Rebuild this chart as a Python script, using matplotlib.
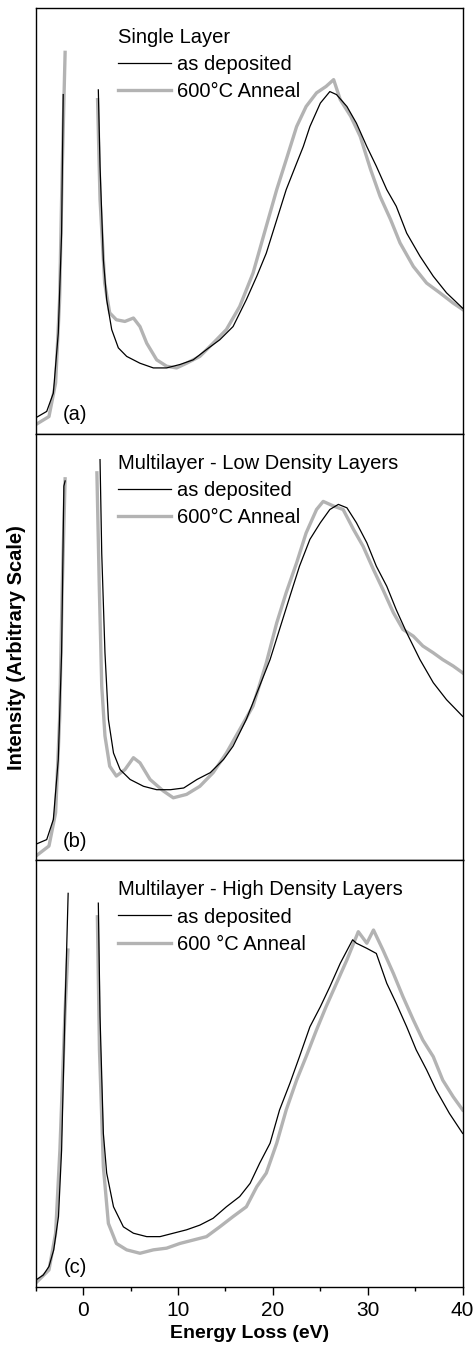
import numpy as np
import matplotlib.pyplot as plt

plt.rcParams['font.family'] = ['Liberation Sans', 'DejaVu Sans']

# energy loss (eV) and intensity (arbitrary, 0..1 per panel)
# nan splits the rising edge of the zero-loss peak from its falling side
a_dep_E = [-5, -3.84, -3.14, -2.62, -2.27, -2.1, np.nan,
           1.6, 1.78, 2.13, 2.48, 3.01, 3.71, 4.59, 5.99, 7.4, 8.8, 10.2, 11.6, 13.0, 14.4,
           15.8, 17.2, 18.3, 19.3, 20.4, 21.4, 22.5, 23.2, 23.9, 25.0, 26.0, 26.7, 27.8, 28.8,
           29.9, 30.9, 32.0, 33.0, 34.1, 35.5, 36.9, 38.3, 40]
a_dep_I = [0.038, 0.053, 0.096, 0.237, 0.471, 0.796, np.nan,
           0.807, 0.628, 0.409, 0.315, 0.245, 0.202, 0.182, 0.166, 0.155, 0.155, 0.163, 0.174,
           0.198, 0.221, 0.252, 0.315, 0.370, 0.424, 0.502, 0.573, 0.635, 0.674, 0.721, 0.776,
           0.803, 0.796, 0.768, 0.729, 0.674, 0.628, 0.573, 0.534, 0.471, 0.417, 0.370, 0.331,
           0.295]
a_ann_E = [-5, -3.6, -2.9, -2.48, -2.2, -1.9, np.nan,
           1.52, 1.78, 2.27, 2.8, 3.5, 4.4, 5.3, 5.99, 6.7, 7.75, 8.8, 9.85, 10.9, 12.3, 13.7,
           15.1, 16.5, 17.9, 19.3, 20.4, 21.4, 22.5, 23.5, 24.6, 25.6, 26.4, 27.1, 28.2, 29.2,
           30.3, 31.3, 32.4, 33.4, 34.8, 36.2, 37.6, 39.0, 40]
a_ann_I = [0.022, 0.041, 0.12, 0.315, 0.628, 0.895, np.nan,
           0.784, 0.55, 0.354, 0.284, 0.268, 0.264, 0.272, 0.252, 0.213, 0.174, 0.159, 0.155,
           0.166, 0.182, 0.213, 0.245, 0.299, 0.377, 0.487, 0.573, 0.643, 0.721, 0.768, 0.800,
           0.815, 0.831, 0.784, 0.745, 0.698, 0.620, 0.557, 0.503, 0.448, 0.393, 0.354, 0.331,
           0.307, 0.292]

b_dep_E = [-5, -3.84, -3.14, -2.62, -2.27, -2.03, -1.9, np.nan,
           1.78, 1.96, 2.3, 2.66, 3.2, 3.9, 4.95, 6.36, 7.75, 9.2, 10.6, 12.0, 13.4, 14.8, 15.8,
           17.2, 18.6, 19.7, 20.7, 21.8, 22.8, 23.9, 25.0, 26.0, 26.9, 27.8, 28.8, 29.9, 30.9,
           32.0, 33.0, 34.1, 35.5, 36.9, 38.3, 40]
b_dep_I = [0.038, 0.049, 0.096, 0.237, 0.487, 0.878, 0.89, np.nan,
           0.94, 0.72, 0.487, 0.331, 0.252, 0.213, 0.190, 0.174, 0.166, 0.166, 0.170, 0.190,
           0.206, 0.237, 0.268, 0.331, 0.409, 0.471, 0.542, 0.620, 0.690, 0.753, 0.792, 0.823,
           0.835, 0.827, 0.792, 0.745, 0.690, 0.643, 0.588, 0.534, 0.471, 0.417, 0.377, 0.338]
b_ann_E = [-5, -3.6, -2.9, -2.48, -2.2, -1.9, np.nan,
           1.45, 1.7, 1.96, 2.3, 2.8, 3.5, 4.4, 5.3, 5.99, 7.05, 8.45, 9.5, 10.9, 12.3, 13.7,
           15.1, 16.5, 17.9, 19.3, 20.4, 21.4, 22.5, 23.5, 24.6, 25.3, 26.4, 27.4, 28.5, 29.5,
           30.6, 31.6, 32.7, 33.7, 34.8, 35.8, 36.9, 37.9, 39.0, 40]
b_ann_I = [0.01, 0.034, 0.112, 0.331, 0.643, 0.895, np.nan,
           0.909, 0.643, 0.409, 0.292, 0.221, 0.198, 0.213, 0.241, 0.229, 0.190, 0.163, 0.147,
           0.155, 0.174, 0.206, 0.252, 0.307, 0.362, 0.463, 0.557, 0.628, 0.698, 0.768, 0.823,
           0.842, 0.831, 0.823, 0.776, 0.737, 0.682, 0.635, 0.581, 0.542, 0.526, 0.503, 0.487,
           0.471, 0.456, 0.44]

c_dep_E = [-5, -4.2, -3.6, -3.1, -2.6, -2.27, -1.93, -1.58, np.nan,
           1.6, 1.78, 2.13, 2.48, 3.2, 4.24, 5.3, 6.7, 8.1, 9.5, 10.9, 12.3, 13.7, 15.1, 16.5,
           17.6, 18.6, 19.7, 20.7, 21.8, 22.8, 23.9, 25.0, 26.0, 27.1, 28.4, 28.8, 29.9, 30.9,
           32.0, 33.0, 34.1, 35.1, 36.2, 37.2, 38.6, 40]
c_dep_I = [0.016, 0.028, 0.048, 0.087, 0.165, 0.321, 0.634, 0.923, np.nan,
           0.9, 0.634, 0.36, 0.267, 0.188, 0.141, 0.126, 0.118, 0.118, 0.126, 0.134, 0.145,
           0.161, 0.188, 0.212, 0.243, 0.290, 0.337, 0.415, 0.478, 0.540, 0.610, 0.657, 0.704,
           0.759, 0.814, 0.806, 0.794, 0.782, 0.712, 0.665, 0.610, 0.556, 0.509, 0.462, 0.407,
           0.360]
c_ann_E = [-5, -3.6, -2.9, -2.45, -1.93, -1.6, np.nan,
           1.5, 1.72, 2.13, 2.66, 3.5, 4.59, 5.99, 7.4, 8.8, 10.2, 11.6, 13.0, 14.4, 15.8, 17.2,
           18.3, 19.3, 20.4, 21.4, 22.5, 23.5, 24.6, 25.6, 26.7, 27.8, 29.0, 29.9, 30.6, 31.6,
           32.7, 33.7, 34.8, 35.8, 36.9, 37.9, 39.0, 40]
c_ann_I = [0.009, 0.04, 0.126, 0.321, 0.634, 0.79, np.nan,
           0.868, 0.556, 0.282, 0.149, 0.102, 0.087, 0.079, 0.087, 0.091, 0.102, 0.110, 0.118,
           0.141, 0.165, 0.188, 0.235, 0.267, 0.337, 0.415, 0.485, 0.540, 0.603, 0.657, 0.712,
           0.767, 0.833, 0.806, 0.837, 0.790, 0.735, 0.681, 0.626, 0.579, 0.540, 0.485, 0.446,
           0.415]

titles = ['Single Layer', 'Multilayer - Low Density Layers', 'Multilayer - High Density Layers']
anneal_labels = ['600°C Anneal', '600°C Anneal', '600 °C Anneal']
panel_tags = ['(a)', '(b)', '(c)']
x_ticks = [0, 10, 20, 30, 40]

panels = [(a_dep_E, a_dep_I, a_ann_E, a_ann_I),
          (b_dep_E, b_dep_I, b_ann_E, b_ann_I),
          (c_dep_E, c_dep_I, c_ann_E, c_ann_I)]

fig = plt.figure(figsize=(4.76, 13.5), dpi=100)
left, width, h = 0.075, 0.897, 0.3159
bottoms = [0.6785, 0.3626, 0.0467]
grey = '#b3b3b3'

for i, (dE, dI, aE, aI) in enumerate(panels):
    ax = fig.add_axes([left, bottoms[i], width, h])
    l2, = ax.plot(aE, aI, color=grey, lw=2.4, label=anneal_labels[i])
    l1, = ax.plot(dE, dI, color='black', lw=0.9, label='as deposited')
    ax.set_xlim(-5, 40)
    ax.set_ylim(0, 1)
    ax.set_yticks([])
    for s in ax.spines.values():
        s.set_linewidth(1.0)
    leg = ax.legend(handles=[l1, l2], title=titles[i], loc='upper left',
                    bbox_to_anchor=(0.175, 0.972), frameon=False, fontsize=14.5,
                    title_fontsize=14.5, handlelength=2.6, handletextpad=0.3,
                    labelspacing=0.4, borderaxespad=0)
    leg._legend_box.align = 'left'
    ax.text(0.092, 0.045, panel_tags[i], transform=ax.transAxes, fontsize=14.5,
            ha='center', va='center')
    if i < 2:
        ax.set_xticks([])
    else:
        ax.set_xticks(x_ticks)
        ax.set_xticks(np.arange(-5, 41, 10), minor=True)
        ax.tick_params(axis='x', which='major', direction='out', length=6, width=1,
                       labelsize=15, pad=4)
        ax.tick_params(axis='x', which='minor', direction='out', length=3, width=1)
        ax.set_xlabel('Energy Loss (eV)', fontsize=14, fontweight='bold', labelpad=4)
    if i == 1:
        ax.set_ylabel('Intensity (Arbitrary Scale)', fontsize=14.5, fontweight='bold',
                      labelpad=7)

fig.savefig('out.png', dpi=100)
